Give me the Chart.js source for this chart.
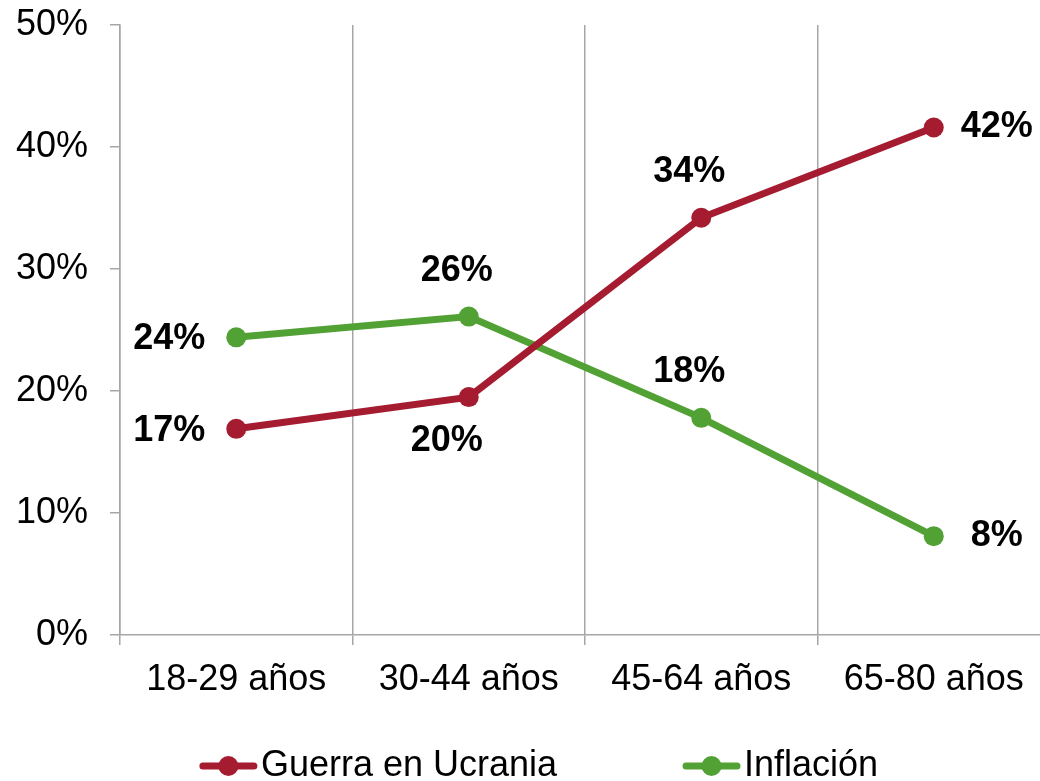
<!DOCTYPE html>
<html>
<head>
<meta charset="utf-8">
<script src="https://cdn.jsdelivr.net/npm/chart.js@4/dist/chart.umd.min.js"></script>
<style>
  html, body { margin: 0; padding: 0; background: #fff; overflow: hidden; }
  #wrap { width: 1060px; height: 781px; }
</style>
</head>
<body>
<div id="wrap"><canvas id="chart"></canvas></div>
<script>
// data (percent)
const categories = ['18-29 años', '30-44 años', '45-64 años', '65-80 años'];
const guerraValues = [16.9, 19.5, 34.2, 41.6];
const inflacionValues = [24.4, 26.1, 17.8, 8.1];
const yTicks = [0, 10, 20, 30, 40, 50];

// where each value label sits relative to its point
const guerraLabelPos = ['left', 'below', 'above', 'right'];
const inflacionLabelPos = ['left', 'above', 'above', 'right'];

const RED = '#A51B30';
const GREEN = '#52A135';
const GRID = '#A6A6A6';
const FONT = '"Liberation Sans", Arial, sans-serif';

// value labels, like the office chart data labels
const valueLabels = {
  id: 'valueLabels',
  afterDatasetsDraw(chart) {
    const ctx = chart.ctx;
    ctx.save();
    ctx.font = 'bold 36px ' + FONT;
    ctx.fillStyle = '#000';
    ctx.textAlign = 'center';
    ctx.textBaseline = 'middle';
    chart.data.datasets.forEach((ds, di) => {
      const meta = chart.getDatasetMeta(di);
      meta.data.forEach((pt, i) => {
        const text = Math.round(ds.data[i]) + '%';
        const pos = ds.labelPos[i];
        let x = pt.x, y = pt.y;
        if (pos === 'left') {
          x -= 67;
          y += 2;
        } else if (pos === 'right') {
          x += 63;
          y += 0;
        } else if (pos === 'above') {
          x -= 12;
          y -= 46;
        } else {
          x -= 22;
          y += 44;
        }
        ctx.fillText(text, x, y);
      });
    });
    ctx.restore();
  }
};

// legend with a line + dot marker, drawn at the bottom
const lineLegend = {
  id: 'lineLegend',
  afterDraw(chart) {
    const ctx = chart.ctx;
    ctx.save();
    ctx.font = '36px ' + FONT;
    ctx.textBaseline = 'middle';
    ctx.textAlign = 'left';
    const markW = 57, textGap = 4, itemGap = 126, cy = 766;
    const items = chart.data.datasets.map(ds => ({
      ds, w: markW + textGap + ctx.measureText(ds.label).width
    }));
    const total = items.reduce((a, it) => a + it.w, 0) + itemGap * (items.length - 1);
    let x = 539 - total / 2;
    items.forEach(it => {
      ctx.strokeStyle = it.ds.borderColor;
      ctx.lineWidth = 7;
      ctx.lineCap = 'round';
      ctx.beginPath();
      ctx.moveTo(x + 3, cy);
      ctx.lineTo(x + markW - 3, cy);
      ctx.stroke();
      ctx.fillStyle = it.ds.borderColor;
      ctx.beginPath();
      ctx.arc(x + markW / 2, cy, 10, 0, Math.PI * 2);
      ctx.fill();
      ctx.fillStyle = '#000';
      ctx.fillText(it.ds.label, x + markW + textGap, cy);
      x += it.w + itemGap;
    });
    ctx.restore();
  }
};

new Chart(document.getElementById('chart'), {
  type: 'line',
  data: {
    labels: categories,
    datasets: [
      {
        label: 'Guerra en Ucrania',
        data: guerraValues,
        labelPos: guerraLabelPos,
        borderColor: RED,
        backgroundColor: RED,
        borderWidth: 7,
        pointRadius: 10,
        pointBorderWidth: 0,
        pointBackgroundColor: RED,
        tension: 0
      },
      {
        label: 'Inflación',
        data: inflacionValues,
        labelPos: inflacionLabelPos,
        borderColor: GREEN,
        backgroundColor: GREEN,
        borderWidth: 7,
        pointRadius: 10,
        pointBorderWidth: 0,
        pointBackgroundColor: GREEN,
        tension: 0
      }
    ]
  },
  options: {
    responsive: true,
    maintainAspectRatio: false,
    animation: false,
    layout: { padding: { top: 25, right: 9, bottom: 76, left: 0 } },
    plugins: {
      legend: { display: false },
      tooltip: { enabled: false }
    },
    scales: {
      x: {
        offset: true,
        grid: {
          offset: true,
          color: GRID,
          lineWidth: 1.5,
          tickLength: 10,
          drawOnChartArea: true
        },
        border: { color: GRID, width: 1.5 },
        ticks: {
          color: '#000',
          padding: 13,
          maxRotation: 0,
          font: { family: FONT, size: 36 }
        },
        afterFit(scale) { scale.height = 70; }
      },
      y: {
        min: 0,
        max: 50,
        afterBuildTicks(scale) { scale.ticks = yTicks.map(v => ({ value: v })); },
        grid: {
          color: GRID,
          lineWidth: 1.5,
          tickLength: 10,
          drawOnChartArea: false
        },
        border: { color: GRID, width: 1.5 },
        ticks: {
          color: '#000',
          padding: 22,
          font: { family: FONT, size: 36 },
          callback: v => v + '%'
        },
        afterFit(scale) {
          scale.width = 120;
          scale.paddingTop = 0;
          scale.paddingBottom = 0;
        }
      }
    }
  },
  plugins: [valueLabels, lineLegend]
});
</script>
</body>
</html>
